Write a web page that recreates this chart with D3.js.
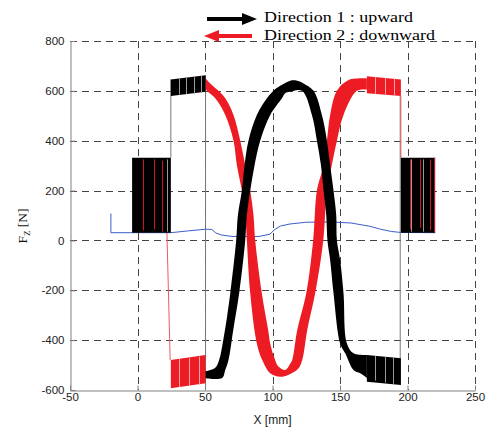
<!DOCTYPE html>
<html><head><meta charset="utf-8">
<script src="https://cdn.jsdelivr.net/npm/d3@7"></script>
<style>body{margin:0;background:#fff}svg{display:block}</style>
</head><body><svg id="c" width="488" height="429"></svg>
<script>
const xTicks = [-50, 0, 50, 100, 150, 200, 250];
const yTicks = [-600, -400, -200, 0, 200, 400, 600, 800];
const legendLabels = ["Direction 1 : upward", "Direction 2 : downward"];

// Direction 1 (black) oscillation band: upper / lower envelope [X, Fz]
const dir1Upper = [[50.4,-525],[57.6,-511],[60.5,-479],[63.5,-400],[66.5,-300],[68.7,-212],[73.1,0],[74.4,102],[77.3,200],[79.3,302],[82.2,400],[88.4,503],[95.9,570],[100.7,600],[105.7,620],[113.1,641],[118.3,641],[123.0,630],[130.4,600],[136.6,503],[140.3,400],[142.7,302],[145.2,200],[147.2,102],[147.7,0],[150.1,-79],[152.6,-212],[155.1,-413],[160.0,-453],[169.9,-460]];
const dir1Lower = [[50.4,-553],[62.7,-552],[65.0,-520],[67.4,-480],[70.9,-360],[75.3,-212],[79.8,0],[81.0,102],[83.5,200],[86.7,302],[90.9,400],[98.3,503],[107.0,570],[109.4,590],[113.1,597],[121.8,600],[129.2,503],[132.9,400],[135.9,302],[137.8,200],[139.8,102],[140.7,0],[142.7,-79],[145.2,-212],[150.1,-413],[153.9,-453],[160.0,-520],[165.0,-533],[169.9,-552]];
// Direction 2 (red) oscillation band
const dir2Upper = [[50.4,651],[53.9,630],[60.0,600],[65.0,570],[71.1,503],[76.1,400],[79.8,302],[83.5,200],[85.9,102],[87.2,0],[92.1,-212],[96.8,-360],[98.3,-413],[101.3,-470],[104.2,-505],[109.4,-520],[113.1,-495],[114.6,-480],[118.3,-360],[125.0,-212],[130.1,0],[132.9,200],[137.8,302],[140.3,400],[142.7,503],[147.7,600],[156.1,643],[169.9,650]];
const dir2Lower = [[50.4,610],[51.4,600],[57.6,570],[65.0,503],[71.1,400],[73.6,302],[77.3,200],[79.8,102],[81.0,0],[83.5,-212],[88.4,-413],[92.4,-480],[98.3,-533],[105.7,-547],[111.6,-540],[119.0,-515],[122.0,-480],[125.7,-360],[131.6,-212],[137.6,0],[140.3,200],[143.9,302],[147.7,400],[152.6,503],[162.5,600],[169.9,605]];

// blocks: [x0, x1, hiLeft, hiRight, loLeft, loRight]
const dir1Blocks = [[-4,24.7,332,332,31,31],[24.7,50.4,646,663,579,596],[169.9,195.1,-460,-473,-567,-580],[195.1,220.5,332,332,31,31]];
const dir2Blocks = [[24.7,50.4,-480,-460,-593,-573],[169.9,195.1,659,646,590,579]];
// stripes inside blocks: [X, Flo, Fhi]
const dir1Stripes = [[21.8,35,325],[30.5,585,650],[36,587,654],[41.5,589,657],[47,592,660],[176,-562,-463],[183.5,-570,-466],[189.6,-575,-469],[202.5,35,325],[211.4,35,325]];
const dir2Stripes = [[30.5,-588,-476],[37.8,-583,-472],[45.2,-578,-466],[176,588,655],[183,585,652],[190,582,649]];
const redInBlack = [[4,40,325],[11.9,45,325],[18,35,320],[202,45,325],[209,50,325],[217,40,325],[219.7,32,332]];
// connecting lines
const dir1Links = [[[24.7,646],[24.7,332]],[[50.4,663],[50.4,-593]],[[194.6,579],[194.6,-580]]];
const dir2Links = [[[21.8,31],[24.2,-480]],[[195.1,579],[195.1,332]]];
// reference (blue) curve
const blueLine = [[-19.7,108],[-19.7,31],[24.7,31],[37,38],[50.4,45],[55,44],[58,30],[62,22],[70,16],[90,16],[98,25],[102,45],[106,58],[113,66],[125,73],[143,74],[158,70],[172,57],[180,45],[188,36],[195,32],[220.5,31]];

const L = 70, R = 475, T = 41, B = 390;
const x = d3.scaleLinear().domain([-50, 250]).range([L, R]);
const y = d3.scaleLinear().domain([-600, 800]).range([B, T]);
const svg = d3.select('#c');
const px = v => Math.round(v) + 0.5;

// grid
const grid = svg.append('g').attr('stroke', '#444').attr('stroke-dasharray', '7,5').attr('stroke-width', 1);
grid.selectAll('.gx').data(xTicks.filter(v => v > -50)).join('line')
  .attr('x1', d => px(x(d))).attr('x2', d => px(x(d))).attr('y1', T).attr('y2', B);
grid.selectAll('.gy').data(yTicks.filter(v => v > -600)).join('line')
  .attr('y1', d => px(y(d))).attr('y2', d => px(y(d))).attr('x1', L).attr('x2', R);

const line = d3.line().x(d => x(d[0])).y(d => y(d[1]));
const smooth = d3.line().x(d => x(d[0])).y(d => y(d[1])).curve(d3.curveCatmullRom.alpha(0.5));

// links (gray)
svg.append('g').selectAll('path').data(dir1Links).join('path')
  .attr('d', d => line(d)).attr('stroke', '#777').attr('stroke-width', 1).attr('fill', 'none');

// blue reference line
svg.append('path').attr('d', line(blueLine)).attr('fill', 'none').attr('stroke', '#3d5fc8').attr('stroke-width', 1);

const band = (up, lo) => smooth(up) + 'L' + smooth(lo.slice().reverse()).slice(1) + 'Z';
const blockPoly = b => line([[b[0], b[2]], [b[1], b[3]], [b[1], b[5]], [b[0], b[4]]]) + 'Z';

// direction 2 (red)
svg.append('path').attr('d', band(dir2Upper, dir2Lower)).attr('fill', '#ed1c24');
svg.append('g').selectAll('path').data(dir2Blocks).join('path').attr('d', blockPoly).attr('fill', '#ed1c24');
svg.append('g').selectAll('path').data(dir2Links).join('path')
  .attr('d', d => line(d)).attr('stroke', '#f05a5f').attr('stroke-width', 1).attr('fill', 'none');
svg.append('g').selectAll('line').data(dir2Stripes).join('line')
  .attr('x1', d => px(x(d[0]))).attr('x2', d => px(x(d[0]))).attr('y1', d => y(d[1])).attr('y2', d => y(d[2]))
  .attr('stroke', '#f7a5a8').attr('stroke-width', 1);

// direction 1 (black)
svg.append('path').attr('d', band(dir1Upper, dir1Lower)).attr('fill', '#000');
svg.append('g').selectAll('path').data(dir1Blocks).join('path').attr('d', blockPoly).attr('fill', '#000');
svg.append('g').selectAll('line').data(dir1Stripes).join('line')
  .attr('x1', d => px(x(d[0]))).attr('x2', d => px(x(d[0]))).attr('y1', d => y(d[1])).attr('y2', d => y(d[2]))
  .attr('stroke', '#9a9a9a').attr('stroke-width', 1);
svg.append('g').selectAll('line').data(redInBlack).join('line')
  .attr('x1', d => px(x(d[0]))).attr('x2', d => px(x(d[0]))).attr('y1', d => y(d[1])).attr('y2', d => y(d[2]))
  .attr('stroke', '#d0141c').attr('stroke-width', 1);

// axes
const fontSans = "'Liberation Sans', Arial, sans-serif";
const ax = svg.append('g').attr('transform', `translate(0,${B + 0.5})`)
  .call(d3.axisBottom(x).tickValues(xTicks).tickSize(-5).tickSizeOuter(0).tickPadding(2).tickFormat(d3.format('d')));
const ay = svg.append('g').attr('transform', `translate(${L + 0.5},0)`)
  .call(d3.axisLeft(y).tickValues(yTicks).tickSize(-5).tickSizeOuter(0).tickPadding(6).tickFormat(d3.format('d')));
[ax, ay].forEach(g => {
  g.select('.domain').attr('stroke', '#808080');
  g.selectAll('.tick line').attr('stroke', '#808080');
  g.selectAll('text').attr('font-family', fontSans).attr('font-size', 11.5).attr('fill', '#222');
  g.selectAll('.tick text').text(d => d < 0 ? '-' + Math.abs(d) : d);
});

svg.append('text').attr('x', (L + R) / 2).attr('y', 424).attr('text-anchor', 'middle')
  .attr('font-family', fontSans).attr('font-size', 12).attr('fill', '#222').text('X [mm]');

const yl = svg.append('text').attr('transform', 'translate(27,226) rotate(-90)').attr('text-anchor', 'middle')
  .attr('font-family', "'Liberation Serif', 'Times New Roman', serif").attr('font-size', 13.5).attr('fill', '#111');
yl.append('tspan').text('F');
yl.append('tspan').attr('font-size', 9).attr('dy', 3).text('Z');
yl.append('tspan').attr('dy', -3).text(' [N]');

// legend
const lg = svg.append('g');
lg.append('path').attr('d', 'M207,17 L242,17 L242,13 L257,19 L242,25 L242,21 L207,21 Z').attr('fill', '#000');
lg.append('path').attr('d', 'M252,34 L219,34 L219,30 L204,36 L219,42 L219,38 L252,38 Z').attr('fill', '#ed1c24');
const legendWidths = [149, 171];
lg.selectAll('text').data(legendLabels).join('text')
  .attr('x', 264).attr('y', (d, i) => 22 + i * 18)
  .attr('font-family', "'Liberation Serif', 'Times New Roman', serif").attr('font-size', 15.5).attr('fill', '#000')
  .attr('textLength', (d, i) => legendWidths[i]).attr('lengthAdjust', 'spacingAndGlyphs')
  .text(d => d);
</script>
</body></html>
